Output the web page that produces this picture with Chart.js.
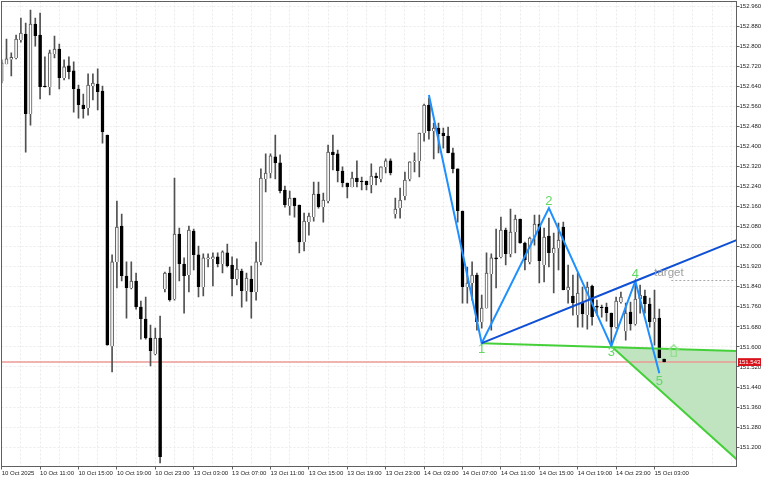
<!DOCTYPE html>
<html>
<head>
<meta charset="utf-8">
<title>Grafico</title>
<script src="https://cdn.jsdelivr.net/npm/chart.js@4/dist/chart.umd.min.js"></script>
<style>
  html, body { margin: 0; padding: 0; background: #fff; }
  canvas { display: block; }
</style>
</head>
<body>
<canvas id="grafico" width="768" height="480"></canvas>
<script>
// candles, 30 min each, first one is index 0
const opens = [
  152.661,152.729,152.747,152.753,152.824,152.848,152.529,152.888,152.844,152.641,
  152.637,152.769,152.788,152.673,152.721,152.701,152.629,152.565,152.553,152.641,
  152.649,152.621,152.445,151.603,151.939,152.082,151.883,151.835,151.863,151.759,
  151.711,151.635,151.572,151.635,151.831,151.895,151.791,152.050,151.931,151.887,
  152.062,151.967,151.839,151.951,151.951,151.959,151.931,151.975,151.927,151.871,
  151.903,151.823,151.871,151.819,151.939,152.270,152.294,152.358,152.334,152.226,
  152.162,152.194,152.166,152.018,152.098,152.118,152.210,152.158,152.182,152.377,
  152.370,152.302,152.254,152.238,152.274,152.262,152.262,152.246,152.282,152.270,
  152.318,152.342,152.130,152.154,152.202,152.270,152.338,152.342,152.453,152.565,
  152.461,152.473,152.453,152.441,152.374,152.310,152.142,151.839,151.855,151.887,
  151.699,151.755,151.891,151.955,151.959,152.066,151.971,152.058,152.110,152.014,
  151.939,152.038,152.090,151.927,152.042,151.975,151.994,152.078,151.827,151.803,
  151.727,151.779,151.727,151.843,151.763,151.759,151.759,151.735,151.679,151.779,
  151.663,151.739,151.691,151.791,151.803,151.771,151.699,151.715,151.552
];
const closes = [
  152.733,152.749,152.755,152.828,152.852,152.529,152.888,152.840,152.637,152.637,
  152.773,152.788,152.673,152.717,152.697,152.629,152.565,152.549,152.645,152.653,
  152.617,152.457,151.607,151.939,152.078,151.883,151.835,151.863,151.759,151.711,
  151.635,151.584,151.635,151.161,151.895,151.787,152.050,151.931,151.883,152.066,
  151.967,151.839,151.955,151.955,151.959,151.931,151.979,151.923,151.871,151.911,
  151.823,151.875,151.819,151.939,152.274,152.294,152.362,152.334,152.222,152.166,
  152.194,152.162,152.018,152.102,152.122,152.210,152.158,152.186,152.377,152.366,
  152.302,152.254,152.238,152.274,152.258,152.258,152.246,152.282,152.274,152.318,
  152.342,152.294,152.150,152.186,152.266,152.338,152.342,152.453,152.565,152.461,
  152.473,152.449,152.441,152.374,152.310,152.142,151.839,151.855,151.887,151.699,
  151.755,151.895,151.955,151.951,152.066,151.971,152.058,152.110,152.014,151.947,
  152.034,152.090,151.943,152.038,151.975,151.994,152.026,151.827,151.839,151.775,
  151.815,151.731,151.839,151.719,151.759,151.755,151.735,151.679,151.783,151.799,
  151.735,151.691,151.791,151.807,151.771,151.699,151.715,151.556,151.540
];
const highs = [
  152.745,152.828,152.773,152.844,152.912,152.892,152.944,152.912,152.932,152.757,
  152.784,152.840,152.808,152.745,152.757,152.737,152.645,152.609,152.689,152.689,
  152.709,152.641,152.445,151.967,152.182,152.130,151.939,151.939,151.895,151.783,
  151.799,151.687,151.675,151.723,151.899,151.919,152.274,152.074,151.955,152.082,
  152.070,152.002,151.971,151.971,151.975,151.975,151.983,152.010,151.959,151.951,
  151.911,151.895,151.923,152.018,152.310,152.370,152.370,152.445,152.366,152.242,
  152.222,152.194,152.166,152.134,152.134,152.258,152.258,152.214,152.405,152.445,
  152.385,152.318,152.254,152.298,152.342,152.278,152.262,152.330,152.294,152.318,
  152.350,152.350,152.194,152.234,152.298,152.338,152.374,152.453,152.569,152.593,
  152.493,152.493,152.473,152.477,152.393,152.310,152.142,151.919,151.939,151.895,
  151.807,151.975,151.971,152.070,152.118,152.074,152.150,152.126,152.110,152.018,
  152.038,152.126,152.126,152.074,152.114,152.054,152.094,152.098,151.927,151.887,
  151.895,151.839,151.859,151.847,151.787,151.767,151.775,151.735,151.799,151.819,
  151.775,151.779,151.859,151.847,151.827,151.795,151.827,151.751,151.552
];
const lows = [
  152.653,152.729,152.681,152.749,152.816,152.377,152.485,152.800,152.589,152.637,
  152.605,152.753,152.629,152.665,152.669,152.537,152.513,152.513,152.525,152.585,
  152.545,152.413,151.607,151.500,151.835,151.863,151.715,151.831,151.751,151.631,
  151.631,151.524,151.568,151.137,151.819,151.783,151.787,151.863,151.735,151.819,
  151.907,151.799,151.803,151.919,151.843,151.919,151.895,151.919,151.803,151.847,
  151.759,151.783,151.715,151.787,151.927,152.218,152.274,152.270,152.214,152.158,
  152.126,152.118,151.975,151.983,152.046,152.102,152.154,152.098,152.174,152.306,
  152.258,152.238,152.194,152.238,152.238,152.226,152.226,152.214,152.246,152.258,
  152.294,152.286,152.114,152.114,152.186,152.262,152.298,152.278,152.421,152.429,
  152.350,152.374,152.393,152.374,152.294,152.098,151.775,151.775,151.787,151.667,
  151.675,151.755,151.667,151.835,151.955,151.927,151.959,151.975,152.014,151.907,
  151.931,152.006,151.855,151.859,151.919,151.815,151.907,151.827,151.775,151.727,
  151.679,151.679,151.671,151.687,151.727,151.719,151.703,151.607,151.675,151.775,
  151.627,151.667,151.687,151.735,151.735,151.679,151.607,151.556,151.540
];

const priceTicks = [
  152.96,152.88,152.80,152.72,152.64,152.56,152.48,152.40,152.32,152.24,152.16,152.08,
  152.00,151.92,151.84,151.76,151.68,151.60,151.52,151.44,151.36,151.28,151.20
];
const timeLabels = [
  "10 Oct 2025","10 Oct 11:00","10 Oct 15:00","10 Oct 19:00","10 Oct 23:00",
  "13 Oct 03:00","13 Oct 07:00","13 Oct 11:00","13 Oct 15:00","13 Oct 19:00","13 Oct 23:00",
  "14 Oct 03:00","14 Oct 07:00","14 Oct 11:00","14 Oct 15:00","14 Oct 19:00","14 Oct 23:00",
  "15 Oct 03:00"
];

// wave drawn over the candles
const waveX = [89, 100, 114, 127, 132, 137];
const wavePrices = [152.605, 151.615, 152.154, 151.603, 151.863, 151.495];
const waveNames = ["1", "2", "3", "4", "5"];
const waveNameX = [100, 114, 127, 132, 137];
const waveNamePrices = [151.590, 152.182, 151.578, 151.890, 151.462];

const lastPrice = 151.54;
const lastPriceText = "151.543";
const xMin = -0.04;
const xMax = 153.08;

// 1-4 line, 1-3 line, and the lower edge of the green zone
const trendX = [100, 132, xMax];
const trendPrices = [151.615, 151.863, 152.026];
const greenTopX = [100, xMax];
const greenTopPrices = [151.615, 151.584];
const zoneX = [127, xMax];
const zoneTopPrices = [151.603, 151.584];
const zoneBottomPrices = [151.603, 151.152];
const targetX = [139.5, xMax];
const targetPrices = [151.865, 151.865];
const arrowX = [140];
const arrowPrices = [151.585];

function pontos(xs, ys) {
  return xs.map((x, i) => ({ x: x, y: ys[i] }));
}

// seta vazada que marca a entrada
function criarSeta() {
  const c = document.createElement("canvas");
  c.width = 12;
  c.height = 13;
  const g = c.getContext("2d");
  g.strokeStyle = "#8adf84";
  g.lineWidth = 1.2;
  g.beginPath();
  g.moveTo(6, 0.7);
  g.lineTo(11, 5.5);
  g.lineTo(8.5, 5.5);
  g.lineTo(8.5, 12.4);
  g.lineTo(3.5, 12.4);
  g.lineTo(3.5, 5.5);
  g.lineTo(1, 5.5);
  g.closePath();
  g.stroke();
  return c;
}

// sem folga extra em volta da area do grafico
function semFolga(s) {
  s.paddingLeft = 0;
  s.paddingRight = 0;
  s.paddingTop = 0;
  s.paddingBottom = 0;
}

const velas = opens.map((o, i) => ({ x: i, y: [o, closes[i]] }));
const pavios = lows.map((l, i) => ({ x: i, y: [l, highs[i]] }));

// moldura, textos da onda e etiqueta do preco
const extras = {
  id: "extras",
  afterDatasetsDraw(chart) {
    const ctx = chart.ctx;
    const area = chart.chartArea;
    const sx = chart.scales.x;
    const sy = chart.scales.y;
    ctx.save();
    ctx.textAlign = "center";
    ctx.textBaseline = "middle";
    ctx.font = "13px 'Liberation Sans'";
    ctx.fillStyle = "#62d862";
    waveNames.forEach((n, i) => {
      ctx.fillText(n, sx.getPixelForValue(waveNameX[i]), sy.getPixelForValue(waveNamePrices[i]));
    });
    ctx.font = "11.5px 'Liberation Sans'";
    ctx.fillStyle = "#a0a0a0";
    ctx.fillText("target", sx.getPixelForValue(139), sy.getPixelForValue(151.895));

    ctx.strokeStyle = "#606060";
    ctx.lineWidth = 1;
    ctx.strokeRect(area.left, area.top, area.right - area.left, area.bottom - area.top);

    const yTag = sy.getPixelForValue(lastPrice);
    ctx.fillStyle = "#d8101a";
    ctx.fillRect(738, yTag - 3.8, 23, 7.8);
    ctx.fillStyle = "#fff";
    ctx.font = "6px 'Liberation Sans'";
    ctx.fillText(lastPriceText, 749.5, yTag + 0.3);
    ctx.restore();
  },
};

new Chart(document.getElementById("grafico").getContext("2d"), {
  type: "bar",
  plugins: [extras],
  data: {
    datasets: [
      {
        type: "line", data: pontos(zoneX, zoneTopPrices), order: 20,
        borderWidth: 0, pointRadius: 0, fill: "+1", backgroundColor: "#bfe4bf",
      },
      {
        type: "line", data: pontos(zoneX, zoneBottomPrices), order: 2,
        borderColor: "#45d03a", borderWidth: 2, pointRadius: 0,
      },
      {
        type: "line", data: pontos(greenTopX, greenTopPrices), order: 2,
        borderColor: "#45d03a", borderWidth: 2, pointRadius: 0,
      },
      {
        type: "line", data: pontos([xMin, xMax], [lastPrice, lastPrice]), order: 15,
        borderColor: "#ec9a94", borderWidth: 1.5, pointRadius: 0,
      },
      {
        type: "line", data: pontos(targetX, targetPrices), order: 15,
        borderColor: "#a8a8a8", borderWidth: 1, borderDash: [2, 2], pointRadius: 0,
      },
      {
        data: pavios, order: 8, grouped: false, barThickness: 1,
        backgroundColor: "#505050", borderWidth: 0,
      },
      {
        data: velas, order: 7, grouped: false, barThickness: 3, minBarLength: 1,
        backgroundColor: (c) => (closes[c.dataIndex] > opens[c.dataIndex] ? "#ffffff" : "#000000"),
        borderColor: (c) => (closes[c.dataIndex] > opens[c.dataIndex] ? "#555555" : "#000000"),
        borderWidth: 1,
      },
      {
        type: "line", data: pontos(trendX, trendPrices), order: 1,
        borderColor: "#0f50d4", borderWidth: 2, pointRadius: 0,
      },
      {
        type: "line", data: pontos(waveX, wavePrices), order: 1,
        borderColor: "#1e90ff", borderWidth: 2, pointRadius: 0,
      },
      {
        type: "line", data: pontos(arrowX, arrowPrices), order: 1, showLine: false,
        pointStyle: criarSeta(), pointRadius: 6,
      },
    ],
  },
  options: {
    responsive: false,
    animation: false,
    devicePixelRatio: 1,
    events: [],
    layout: { autoPadding: false, padding: { left: 1.5, top: 1.5, right: 0, bottom: 0 } },
    plugins: { legend: { display: false }, tooltip: { enabled: false } },
    scales: {
      x: {
        type: "linear",
        min: xMin,
        max: xMax,
        bounds: "data",
        offset: false,
        afterFit(s) { s.height = 13.5; semFolga(s); },
        afterBuildTicks(s) {
          const t = [];
          for (let i = 0; i <= 152; i += 4) t.push({ value: i });
          s.ticks = t;
        },
        grid: {
          offset: false,
          color: "#ebebeb",
          tickLength: 3,
          tickColor: (c) => (c.tick && timeLabels[c.tick.value / 8] ? "#606060" : "transparent"),
        },
        border: { color: "#606060", dash: [2, 2] },
        ticks: {
          autoSkip: false,
          maxRotation: 0,
          minRotation: 0,
          align: "start",
          padding: 0,
          color: "#222",
          font: { family: "'Liberation Sans'", size: 6 },
          callback: (v) => timeLabels[v / 8] || "",
        },
      },
      y: {
        position: "right",
        min: 151.123,
        max: 152.978,
        bounds: "data",
        afterFit(s) { s.width = 31.5; semFolga(s); },
        afterBuildTicks(s) {
          s.ticks = priceTicks.map((v) => ({ value: v }));
        },
        grid: { color: "#ebebeb", tickLength: 3, tickColor: "#606060" },
        border: { color: "#606060", dash: [2, 2] },
        ticks: {
          autoSkip: false,
          padding: 0,
          color: "#222",
          font: { family: "'Liberation Sans'", size: 6 },
          callback: (v) => v.toFixed(3),
        },
      },
    },
  },
});
</script>
</body>
</html>
